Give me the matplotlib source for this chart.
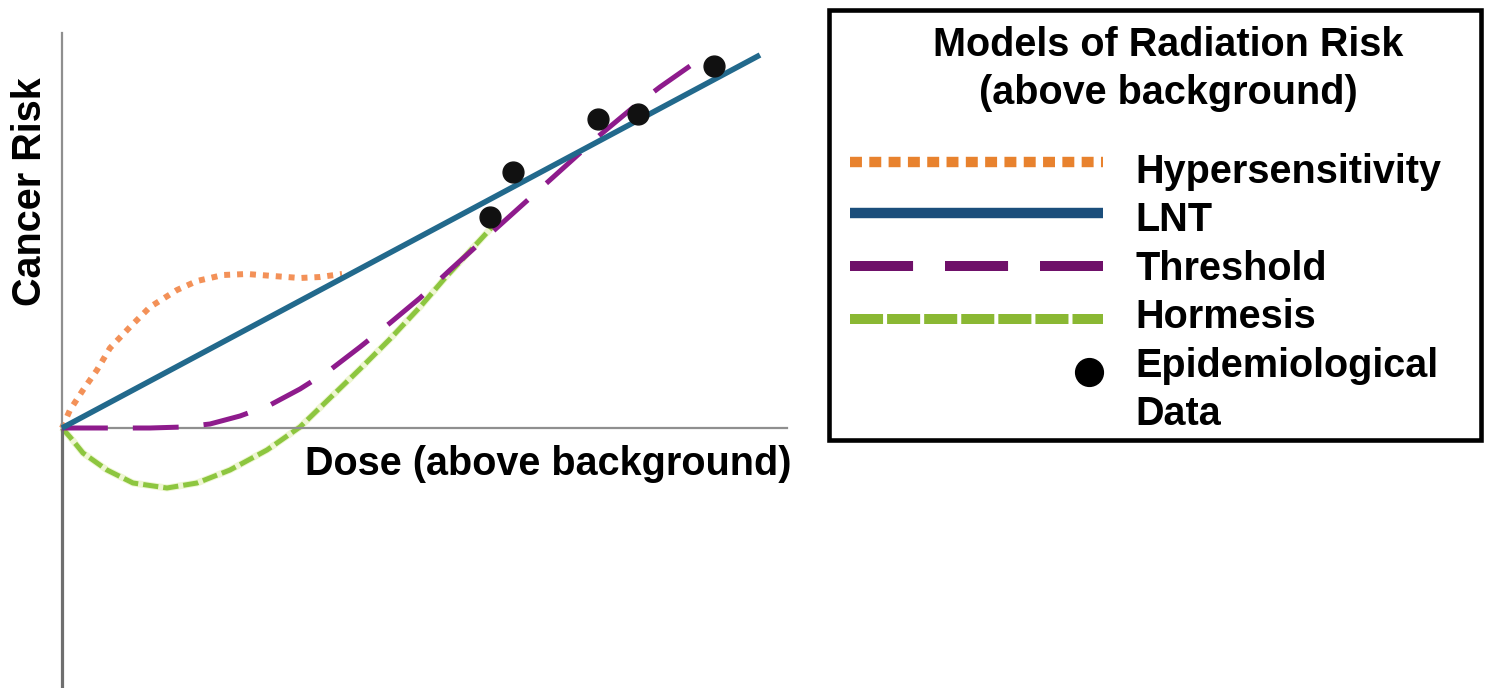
import matplotlib
matplotlib.use("Agg")
import matplotlib.pyplot as plt
from matplotlib.patches import Rectangle

plt.rcParams["font.family"] = ["Liberation Sans", "DejaVu Sans"]
plt.rcParams["lines.scale_dashes"] = False

# dose / risk in arbitrary units (origin = where the axes cross)
lnt_x = [0.0, 6.98]
lnt_y = [0.0, 3.73]

hyper_x = [0.0, 0.08, 0.21, 0.35, 0.48, 0.68, 0.88, 1.15, 1.35, 1.61, 1.85, 2.11, 2.38, 2.58, 2.80]
hyper_y = [0.0, 0.18, 0.38, 0.58, 0.80, 1.01, 1.21, 1.38, 1.47, 1.53, 1.54, 1.52, 1.50, 1.51, 1.54]

thresh_x = [0.0, 0.88, 1.21, 1.48, 1.78, 2.08, 2.38, 2.68, 2.98, 3.28, 3.58, 3.88, 4.18,
            4.48, 4.78, 5.08, 5.38, 5.68, 5.98, 6.28]
thresh_y = [0.0, 0.0, 0.01, 0.04, 0.12, 0.23, 0.39, 0.58, 0.81, 1.05, 1.30, 1.58, 1.85,
            2.12, 2.39, 2.66, 2.93, 3.18, 3.41, 3.62]

horm_x = [0.0, 0.08, 0.21, 0.45, 0.71, 1.05, 1.35, 1.68, 2.05, 2.38, 2.68, 2.98, 3.28,
          3.58, 3.83, 4.08, 4.31]
horm_y = [0.0, -0.09, -0.25, -0.42, -0.55, -0.60, -0.55, -0.42, -0.22, 0.01, 0.30, 0.59,
          0.89, 1.21, 1.50, 1.77, 2.02]

epi_x = [4.28, 4.51, 5.36, 5.76, 6.52]
epi_y = [2.11, 2.56, 3.09, 3.14, 3.62]

labels = ["Hypersensitivity", "LNT", "Threshold", "Hormesis", "Epidemiological\nData"]
legend_title = "Models of Radiation Risk\n(above background)"

W, H = 1485, 688
fig = plt.figure(figsize=(W / 100, H / 100), dpi=100)
ax = fig.add_axes([0, 0, 1, 1])
ax.set_xlim(-0.62, 14.23)
ax.set_ylim(-2.60, 4.28)
ax.patch.set_alpha(0)

# axes drawn through the origin
ax.spines["top"].set_visible(False)
ax.spines["left"].set_position(("data", 0))
ax.spines["left"].set_bounds(0, 3.95)
ax.spines["left"].set_color("#8f8f8f")
ax.spines["left"].set_linewidth(1.6)
ax.spines["right"].set_position(("data", 0))
ax.spines["right"].set_bounds(-2.60, 0)
ax.spines["right"].set_color("#6f6f6f")
ax.spines["right"].set_linewidth(2.3)
ax.spines["bottom"].set_position(("data", 0))
ax.spines["bottom"].set_bounds(0, 7.25)
ax.spines["bottom"].set_color("#8f8f8f")
ax.spines["bottom"].set_linewidth(1.6)
ax.set_xticks([])
ax.set_yticks([])

ax.plot(horm_x, horm_y, color="#eef6d2", lw=5.0, solid_capstyle="butt", zorder=2)
ax.plot(horm_x, horm_y, color="#8dc63f", lw=3.6, dashes=(11, 3.6), zorder=2.1)
ax.plot(hyper_x, hyper_y, color="#f39158", lw=4.3, dashes=(4.3, 5.0), zorder=2.2)
ax.plot(thresh_x, thresh_y, color="#8e1b8c", lw=3.6, dashes=(33, 18), zorder=3)
ax.plot(lnt_x, lnt_y, color="#22698c", lw=4.0, solid_capstyle="butt", zorder=4)
ax.plot(epi_x, epi_y, "o", color="#111111", ms=15, zorder=5)

fig.text(30 / W, 1 - 192 / H, "Cancer Risk", rotation=90, fontsize=28.5,
         fontweight="bold", ha="center", va="center")
fig.text(305 / W, 1 - 475 / H, "Dose (above background)", fontsize=28.5,
         fontweight="bold", ha="left", va="baseline")

# legend box, drawn in pixel space
lax = fig.add_axes([0, 0, 1, 1])
lax.set_xlim(0, W)
lax.set_ylim(H, 0)
lax.axis("off")
lax.add_patch(Rectangle((829, 10), 1481 - 829, 440 - 10, fill=False,
                        edgecolor="black", lw=3.3))
title_lines = legend_title.split("\n")
for i, t in enumerate(title_lines):
    lax.text(1168, 56 + 48 * i, t, fontsize=28.5, fontweight="bold",
             ha="center", va="baseline")

sx0, sx1 = 850, 1103
lax.plot([sx0, sx1], [162, 162], color="#e8822e", lw=7.5, dashes=(8.6, 5.3))
lax.plot([sx0, sx1], [213, 213], color="#1b4e7b", lw=7.5, solid_capstyle="butt")
lax.plot([sx0, sx1], [266, 266], color="#6f1069", lw=7.2, dashes=(45.4, 23))
lax.plot([sx0, sx1], [319, 319], color="#8ab833", lw=7.2, dashes=(23.8, 2.9))
lax.plot([1089], [372], "o", color="black", ms=20)

row = 0
for lab in labels:
    for part in lab.split("\n"):
        lax.text(1135, 183 + 48.4 * row, part, fontsize=28.5, fontweight="bold",
                 ha="left", va="baseline")
        row += 1

fig.savefig("out.png", dpi=100)
